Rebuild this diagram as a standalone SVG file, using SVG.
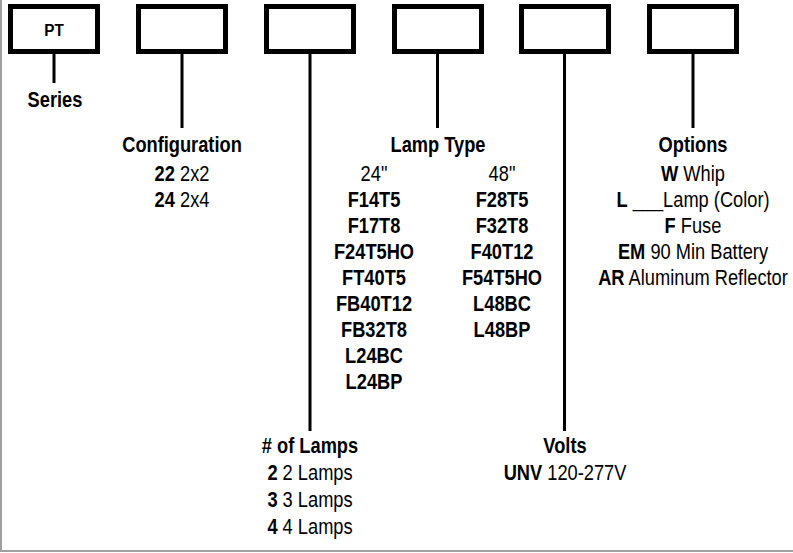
<svg xmlns="http://www.w3.org/2000/svg" width="793" height="553" viewBox="0 0 793 553">
<style>
text{font-family:"Liberation Sans",Arial,sans-serif;font-size:22px;fill:#000;text-anchor:middle}
.b{font-weight:bold}
.pt{font-size:17px;font-weight:bold}
.box{fill:#fff;stroke:#000;stroke-width:5}
#connectors line{stroke:#000;stroke-width:3}
.frame{stroke:#a0a0a0;stroke-width:2}
</style>
<rect width="793" height="553" fill="#fff"/>
<line class="frame" x1="1" y1="0" x2="1" y2="552"/>
<line class="frame" x1="0" y1="551" x2="793" y2="551"/>
<g id="connectors">
<line x1="54" y1="54" x2="54" y2="83"/>
<line x1="182" y1="54" x2="182" y2="128"/>
<line x1="310" y1="54" x2="310" y2="431"/>
<line x1="437.5" y1="54" x2="437.5" y2="128"/>
<line x1="564.5" y1="54" x2="564.5" y2="431"/>
<line x1="693" y1="54" x2="693" y2="128"/>
</g>
<g id="series">
<rect class="box" x="10.5" y="6.5" width="87" height="45"/>
<text class="pt" transform="matrix(0.9 0 0 1 54 0)" x="0" y="36">PT</text>
<text class="b" transform="matrix(0.83 0 0 1 55 0)" x="0" y="107">Series</text>
</g>
<g id="configuration">
<rect class="box" x="138.5" y="6.5" width="87" height="45"/>
<g transform="matrix(0.83 0 0 1 182 0)">
<text class="b" x="0" y="152">Configuration</text>
<text x="0" y="181"><tspan class="b">22</tspan> 2x2</text>
<text x="0" y="207"><tspan class="b">24</tspan> 2x4</text>
</g>
</g>
<g id="lamps">
<rect class="box" x="266.5" y="6.5" width="87" height="45"/>
<g transform="matrix(0.83 0 0 1 310 0)">
<text class="b" x="0" y="453"># of Lamps</text>
<text x="0" y="480"><tspan class="b">2</tspan> 2 Lamps</text>
<text x="0" y="507"><tspan class="b">3</tspan> 3 Lamps</text>
<text x="0" y="534"><tspan class="b">4</tspan> 4 Lamps</text>
</g>
</g>
<g id="lamp-type">
<rect class="box" x="394.5" y="6.5" width="87" height="45"/>
<text class="b" transform="matrix(0.83 0 0 1 438 0)" x="0" y="152">Lamp Type</text>
<g transform="matrix(0.83 0 0 1 374 0)">
<text x="0" y="181">24&quot;</text>
<text class="b" x="0" y="207">F14T5</text>
<text class="b" x="0" y="233">F17T8</text>
<text class="b" x="0" y="259">F24T5HO</text>
<text class="b" x="0" y="285">FT40T5</text>
<text class="b" x="0" y="311">FB40T12</text>
<text class="b" x="0" y="337">FB32T8</text>
<text class="b" x="0" y="363">L24BC</text>
<text class="b" x="0" y="389">L24BP</text>
</g>
<g transform="matrix(0.83 0 0 1 502 0)">
<text x="0" y="181">48&quot;</text>
<text class="b" x="0" y="207">F28T5</text>
<text class="b" x="0" y="233">F32T8</text>
<text class="b" x="0" y="259">F40T12</text>
<text class="b" x="0" y="285">F54T5HO</text>
<text class="b" x="0" y="311">L48BC</text>
<text class="b" x="0" y="337">L48BP</text>
</g>
</g>
<g id="volts">
<rect class="box" x="521.5" y="6.5" width="87" height="45"/>
<g transform="matrix(0.83 0 0 1 565 0)">
<text class="b" x="0" y="453">Volts</text>
<text x="0" y="480"><tspan class="b">UNV</tspan> 120-277V</text>
</g>
</g>
<g id="options">
<rect class="box" x="649.5" y="6.5" width="87" height="45"/>
<g transform="matrix(0.83 0 0 1 693 0)">
<text class="b" x="0" y="152">Options</text>
<text x="0" y="181"><tspan class="b">W</tspan> Whip</text>
<text x="0" y="207"><tspan class="b">L</tspan> ___Lamp (Color)</text>
<text x="0" y="233"><tspan class="b">F</tspan> Fuse</text>
<text x="0" y="259"><tspan class="b">EM</tspan> 90 Min Battery</text>
<text x="0" y="285"><tspan class="b">AR</tspan> Aluminum Reflector</text>
</g>
</g>
</svg>
